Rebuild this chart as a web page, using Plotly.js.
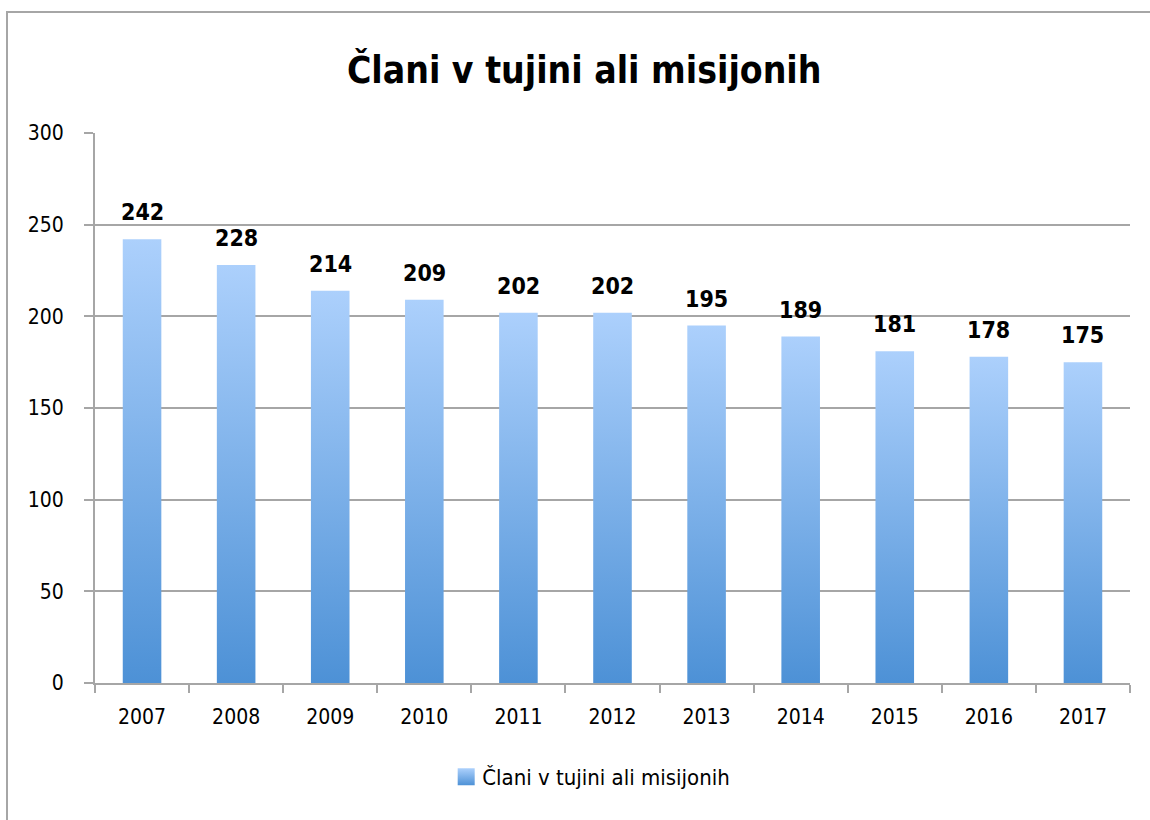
<!DOCTYPE html>
<html>
<head>
<meta charset="utf-8">
<script src="https://cdn.plot.ly/plotly-3.0.1.min.js"></script>
<style>
  html, body { margin: 0; padding: 0; background: #fff; }
  #wrap { position: relative; width: 1150px; height: 820px; overflow: hidden; }
  #chart { position: absolute; left: 0; top: 0; width: 1150px; height: 820px; }
  #frame { position: absolute; left: 6px; top: 11px; width: 1200px; height: 900px;
           border-top: 2px solid #a6a6a6; border-left: 2px solid #a6a6a6; pointer-events: none; }
</style>
</head>
<body>
<div id="wrap">
  <div id="chart"></div>
  <div id="frame"></div>
</div>
<script>
const years = ['2007','2008','2009','2010','2011','2012','2013','2014','2015','2016','2017'];
const members = [242, 228, 214, 209, 202, 202, 195, 189, 181, 178, 175];
const seriesName = 'Člani v tujini ali misijonih';
const chartTitle = 'Člani v tujini ali misijonih';
const yTicks = [0, 50, 100, 150, 200, 250, 300];

const FONT = '"Liberation Sans Narrow", "DejaVu Sans Condensed", "Arial Narrow", sans-serif';

const trace = {
  type: 'bar',
  x: years,
  y: members,
  name: seriesName,
  marker: { color: '#6fa8e6', line: { width: 0 } },
  showlegend: true,
  hoverinfo: 'x+y'
};

// value labels: x given as the category index of each year
const labels = years.map(function (yr, i) {
  return {
    x: i, y: members[i], xref: 'x', yref: 'y',
    text: '<b>' + members[i] + '</b>',
    showarrow: false,
    yanchor: 'middle', yshift: 27,
    font: { family: FONT, size: 23, color: '#000' }
  };
});

const layout = {
  width: 1150,
  height: 820,
  margin: { l: 95, r: 20, t: 133, b: 137 },
  paper_bgcolor: 'rgba(0,0,0,0)',
  plot_bgcolor: '#fff',
  bargap: 0.59,
  showlegend: true,
  annotations: labels,
  title: {
    text: '<b>' + chartTitle + '</b>',
    x: 0.508, xref: 'container', xanchor: 'center',
    y: 0.914, yref: 'container', yanchor: 'middle',
    font: { family: FONT, size: 37, color: '#000' }
  },
  font: { family: FONT, size: 21, color: '#000' },
  xaxis: {
    type: 'category',
    categoryarray: years,
    range: [-0.5, years.length - 0.5],
    tickson: 'boundaries',
    ticks: 'outside', ticklen: 8, tickwidth: 2, tickcolor: '#a6a6a6',
    showline: true, linecolor: '#a6a6a6', linewidth: 2,
    showgrid: false, zeroline: false,
    tickfont: { family: FONT, size: 21, color: '#000' },
    tickangle: 0,
    ticklabelstandoff: 14
  },
  yaxis: {
    range: [0, 300],
    tickvals: yTicks,
    ticktext: yTicks.map(String),
    ticks: 'outside', ticklen: 9, tickwidth: 2, tickcolor: '#a6a6a6',
    showline: true, linecolor: '#a6a6a6', linewidth: 2,
    showgrid: true, gridcolor: '#a6a6a6', gridwidth: 2,
    zeroline: false,
    tickfont: { family: FONT, size: 21, color: '#000' },
    ticklabelstandoff: 16
  },
  legend: {
    orientation: 'h',
    x: 0.477, xanchor: 'center',
    y: -0.171, yanchor: 'middle',
    font: { family: FONT, size: 22, color: '#000' },
    itemwidth: 30
  }
};

Plotly.newPlot('chart', [trace], layout, { displayModeBar: false, staticPlot: true }).then(function (gd) {
  const svg = gd.querySelector('svg.main-svg');
  const ns = 'http://www.w3.org/2000/svg';
  let defs = svg.querySelector('defs');
  if (!defs) { defs = document.createElementNS(ns, 'defs'); svg.insertBefore(defs, svg.firstChild); }
  const grad = document.createElementNS(ns, 'linearGradient');
  grad.setAttribute('id', 'barGrad');
  grad.setAttribute('x1', '0'); grad.setAttribute('y1', '0');
  grad.setAttribute('x2', '0'); grad.setAttribute('y2', '1');
  [['0%', '#acd0fc'], ['100%', '#4d91d6']].forEach(function (s) {
    const st = document.createElementNS(ns, 'stop');
    st.setAttribute('offset', s[0]);
    st.setAttribute('stop-color', s[1]);
    grad.appendChild(st);
  });
  defs.appendChild(grad);
  gd.querySelectorAll('.barlayer .point path').forEach(function (p) {
    p.style.fill = 'url(#barGrad)';
  });
  gd.querySelectorAll('.legendpoints path').forEach(function (p) {
    p.style.fill = 'url(#barGrad)';
    p.style.stroke = 'none';
    p.setAttribute('d', 'M-8.5,-8.5H8.5V8.5H-8.5Z');
    p.setAttribute('transform', 'translate(24,0)');
  });
});
</script>
</body>
</html>
